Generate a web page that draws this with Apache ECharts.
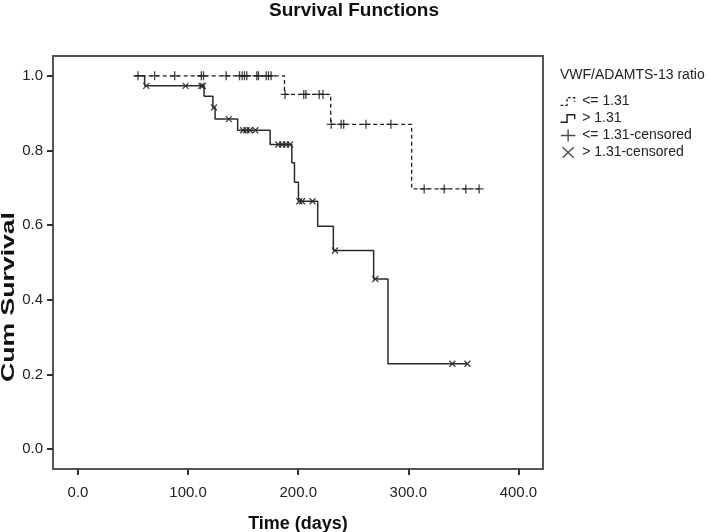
<!DOCTYPE html>
<html><head><meta charset="utf-8">
<script src="https://cdn.jsdelivr.net/npm/echarts@6/dist/echarts.min.js"></script>
<style>html,body{margin:0;padding:0;background:#fff}#c{width:709px;height:532px}</style>
</head><body><div id="c"></div>
<script>
// ---- data ----
const xTicks = [0, 100, 200, 300, 400];
const yTicks = [0, 0.2, 0.4, 0.6, 0.8, 1.0];

// group "<= 1.31": step curve (time, cumulative survival)
const lowTimes = [51.5, 187.5, 229.5, 303, 364.3];
const lowSurv  = [1.0, 0.95, 0.87, 0.697, 0.697];
const lowCensored = [54.5, 69.6, 87.8, 112, 114, 134.6, 146.7, 149.1, 151.2, 153.3, 162.4, 163.9,
  170.9, 173, 175.4, 188, 205, 207, 219, 222.5, 230, 239, 241.3, 261.5, 284.2, 314.4, 332.6, 352.2, 364.3];

// group "> 1.31"
const highTimes = [51.5, 60.5, 114.5, 122.5, 124.5, 145, 174.5, 194.2, 196.6, 200.2, 217.7, 231.9, 268.5, 281.5, 353.7];
const highSurv  = [1.0, 0.973, 0.945, 0.915, 0.884, 0.854, 0.816, 0.767, 0.715, 0.664, 0.597, 0.532, 0.456, 0.229, 0.229];
const highCensored = [62, 97.7, 112, 113.4, 123.5, 137, 150, 153, 156, 161, 182, 185.5, 189, 192.5,
  201, 203.5, 213, 233.4, 270, 340, 353.7];

const seriesNames = ['<= 1.31', '> 1.31', '<= 1.31-censored', '> 1.31-censored'];
const legendTitle = 'VWF/ADAMTS-13 ratio';
const yTitle = 'Cum Survival';
const xTitle = 'Time (days)';

// ---- helpers ----
function survAt(times, surv, t) {
  let v = surv[0];
  for (let i = 0; i < times.length; i++) if (times[i] <= t) v = surv[i];
  return v;
}
const zip = (a, b) => a.map((v, i) => [v, b[i]]);

const FONT = 'Liberation Sans, Arial, sans-serif';
const INK = '#1e1e1e';
const FRAME = '#555';
const plusPath = 'path://M5,0 L5,10 M0,5 L10,5';
const crossPath = 'path://M0,0 L10,10 M0,10 L10,0';

const chart = echarts.init(document.getElementById('c'), null, {renderer: 'canvas'});
chart.setOption({
  animation: false,
  backgroundColor: '#fff',
  title: [
    {text: 'Survival Functions', left: 349, top: -4, textAlign: 'center',
     textStyle: {fontFamily: FONT, fontSize: 19, fontWeight: 'bold', color: '#111'}},
    {text: legendTitle, left: 555, top: 63,
     textStyle: {fontFamily: FONT, fontSize: 14, fontWeight: 'normal', color: '#222'}}
  ],
  graphic: [
    {type: 'text', x: 9, y: 297, rotation: Math.PI / 2, scaleX: 1.4, silent: true,
     style: {text: yTitle, font: 'bold 19px Liberation Sans, Arial, sans-serif', fill: '#111',
             align: 'center', verticalAlign: 'middle'}}
  ],
  grid: {left: 53, right: 166, top: 56, bottom: 63, show: true, borderColor: FRAME, borderWidth: 2,
         backgroundColor: '#fff', containLabel: false, outerBoundsMode: 'none'},
  xAxis: {
    type: 'value', min: -22.7, max: 422.3,
    name: xTitle, nameLocation: 'middle', nameGap: 46, nameMoveOverlap: false,
    nameTextStyle: {fontFamily: FONT, fontSize: 18, fontWeight: 'bold', color: '#111'},
    axisLine: {show: true, onZero: false, lineStyle: {color: FRAME, width: 2}},
    axisTick: {show: true, inside: false, length: 6, customValues: xTicks, lineStyle: {color: '#333', width: 2}},
    axisLabel: {customValues: xTicks, margin: 16, formatter: v => v.toFixed(1),
      fontFamily: FONT, fontSize: 15, color: '#222'},
    splitLine: {show: false}
  },
  yAxis: {
    type: 'value', min: -0.053, max: 1.053,
    axisLine: {show: true, onZero: false, lineStyle: {color: FRAME, width: 2}},
    axisTick: {show: true, inside: false, length: 6, customValues: yTicks, lineStyle: {color: '#333', width: 2}},
    axisLabel: {customValues: yTicks, margin: 10, formatter: v => v.toFixed(1),
      fontFamily: FONT, fontSize: 15, color: '#222'},
    splitLine: {show: false}
  },
  legend: {
    orient: 'vertical', left: 558, top: 93, padding: 0, itemWidth: 18, itemHeight: 12, itemGap: 0,
    selectedMode: false, symbolKeepAspect: true,
    textStyle: {fontFamily: FONT, fontSize: 14, color: '#222', lineHeight: 14},
    data: [
      {name: seriesNames[0], icon: 'path://M0,8 L6,8 L6,1 L13,1 L13,5 M0,-1 M14,10',
       itemStyle: {color: 'none', borderColor: INK, borderWidth: 1.2, borderType: [3, 2]}},
      {name: seriesNames[1], icon: 'path://M0,8 L6,8 L6,1 L13,1 L13,5 M0,-1 M14,10',
       itemStyle: {color: 'none', borderColor: INK, borderWidth: 1.4, borderType: 'solid'}},
      {name: seriesNames[2], icon: 'path://M0,7 L17,7 M8.5,0 L8.5,14',
       itemStyle: {color: 'none', borderColor: INK, borderWidth: 1.4, borderType: 'solid'}},
      {name: seriesNames[3], icon: 'path://M0,0 L13,12 M0,12 L13,0 M-2,-1 M15,13',
       itemStyle: {color: 'none', borderColor: INK, borderWidth: 1.4, borderType: 'solid'}}
    ]
  },
  series: [
    {name: seriesNames[0], type: 'line', step: 'end', symbol: 'none', silent: true,
     data: zip(lowTimes, lowSurv),
     lineStyle: {color: INK, width: 1.3, type: [4, 3]}, itemStyle: {color: INK}},
    {name: seriesNames[1], type: 'line', step: 'end', symbol: 'none', silent: true,
     data: zip(highTimes, highSurv),
     lineStyle: {color: '#2a2a2a', width: 1.5, type: 'solid'}, itemStyle: {color: '#2a2a2a'}},
    {name: seriesNames[2], type: 'scatter', silent: true, symbol: plusPath, symbolSize: [9, 9],
     data: lowCensored.map(t => [t, survAt(lowTimes, lowSurv, t)]),
     itemStyle: {color: 'none', borderColor: '#111', borderWidth: 1.3}},
    {name: seriesNames[3], type: 'scatter', silent: true, symbol: crossPath, symbolSize: [6, 6],
     data: highCensored.map(t => [t, survAt(highTimes, highSurv, t)]),
     itemStyle: {color: 'none', borderColor: '#111', borderWidth: 1.3}}
  ]
});
</script>
</body></html>
